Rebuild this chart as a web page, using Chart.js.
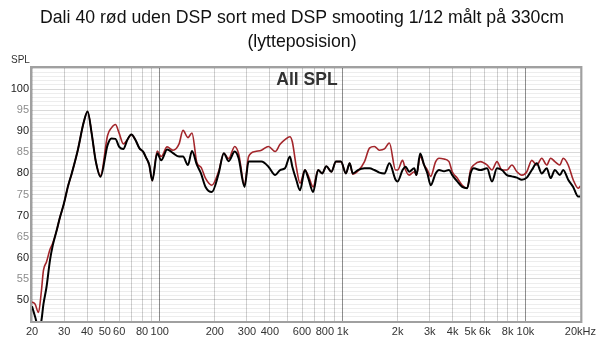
<!DOCTYPE html>
<html>
<head>
<meta charset="utf-8">
<script src="https://cdn.jsdelivr.net/npm/chart.js@4.4.1/dist/chart.umd.min.js"></script>
<style>
  html, body { margin: 0; padding: 0; background: #fff; }
  #wrap { width: 600px; height: 339px; }
</style>
</head>
<body>
<div id="wrap"><canvas id="splChart" width="600" height="339"></canvas></div>
<script>
// frequency points (Hz)
const freqs = [
  20, 20.8, 21.7, 22.5, 23.1, 24, 25.1, 26, 27.3, 28.4,
  29.8, 31.5, 33, 35.6, 38.3, 40.3, 42.4, 44.6, 47.4, 51.8,
  54.4, 57.2, 60, 63.2, 66.5, 69.9, 73.5, 77.3, 81.2, 84,
  87.6, 91, 96.8, 101.8, 109.7, 118.2, 127.5, 134, 142.6, 150,
  159.7, 168, 178, 192.7, 210, 224, 238, 257, 270, 291,
  306, 333, 360, 393, 428, 455, 484, 515, 531, 558,
  585, 622, 649, 690, 735, 773, 815, 868, 920, 980,
  1043, 1093, 1138, 1212, 1318, 1403, 1493, 1590, 1694, 1803,
  1950, 2000, 2129, 2211, 2315, 2465, 2536, 2657, 2793, 2911,
  3034, 3230, 3370, 3588, 3820, 3981, 4238, 4513, 4805, 5010,
  5222, 5674, 6168, 6567, 6992, 7444, 7925, 8438, 8984, 9565,
  10183, 10842, 11543, 12290, 13085, 13742, 14496, 15433, 16107, 17148,
  18257, 19438, 20000
];

// red: uden DSP
const splUdenDsp = [
  49.5, 49, 47, 52, 57, 59, 62, 63.5, 66.5, 69.5,
  72.6, 77, 80, 85.5, 92, 94.7, 89.5, 83, 79.5, 89,
  90.8, 91.6, 89.5, 87, 88, 89.2, 88, 86, 85.1, 83.8,
  82, 78.3, 85.3, 84, 86.3, 85.5, 87, 90.2, 88.5, 89.6,
  82.5, 81.5, 78.8, 77.2, 80.5, 84.8, 83.5, 86.4, 84.7, 77.2,
  84, 85.2, 85.5, 86.4, 85.2, 86.9, 88, 88.7, 87.5, 81.6,
  77.7, 80.8, 79.5, 76.8, 80.8, 80, 81.7, 80.4, 82.8, 82.8,
  80, 82.4, 79.8, 80.5, 82.8, 86, 86.4, 85.5, 85.8, 87.2,
  80.8, 80.8, 83.1, 80.8, 79.6, 80.4, 79.6, 84, 82, 80.8,
  79.3, 82.8, 83.6, 83.4, 82.8, 80.4, 78.9, 77.2, 76.5, 80.8,
  82, 82.8, 82, 80.8, 82.8, 80.8, 80.8, 82, 80.4, 79.6,
  80.4, 83.1, 82, 83.6, 82, 83.6, 82.8, 82, 83.6, 82,
  78.5, 76.5, 77
];

// black: med DSP
const splMedDsp = [
  48.5, 46, 43.5, 45, 49, 53, 59.5, 63, 66.5, 69.5,
  72.6, 77, 80, 85.5, 92, 94.7, 89.5, 83, 79.2, 86.7,
  88.3, 88.2, 86.3, 85.8, 88, 89.2, 88, 86, 85.1, 83.8,
  82, 78.3, 84.8, 83.1, 85.7, 84.8, 84, 84, 82, 85.3,
  82, 80, 76.8, 75.6, 80, 84.8, 82.9, 85.2, 83.6, 76.8,
  82.8, 82.8, 82.8, 81.6, 79.6, 80.8, 81.2, 84, 81.6, 78.5,
  76, 80.8, 78.9, 75.6, 80.8, 80, 81.7, 80.4, 82.8, 82.8,
  80, 82.4, 80, 80.8, 81.2, 81.2, 80.8, 80.2, 80, 82.4,
  78.5, 78.1, 80.8, 81.6, 80.4, 81.2, 79.6, 84.7, 82, 80,
  77.2, 80, 80.8, 80.5, 80.8, 79.6, 78.1, 76.8, 76.5, 80,
  81.2, 80.8, 81.2, 78.1, 81.2, 80.8, 79.6, 79.3, 79, 78.5,
  79, 80.8, 82.4, 80, 81.2, 78.9, 80.8, 79.6, 80.8, 78.5,
  76.8, 74.5, 74.5
];

// vertical grid lines and the ones that get a label
const gridFreqs = [
  20, 30, 40, 50, 60, 70, 80, 90, 100,
  200, 300, 400, 500, 600, 700, 800, 900, 1000,
  2000, 3000, 4000, 5000, 6000, 7000, 8000, 9000, 10000, 20000
];
const freqLabels = {
  20: '20', 30: '30', 40: '40', 50: '50', 60: '60', 80: '80', 100: '100',
  200: '200', 300: '300', 400: '400', 600: '600', 800: '800', 1000: '1k',
  2000: '2k', 3000: '3k', 4000: '4k', 5000: '5k', 6000: '6k', 8000: '8k',
  10000: '10k', 20000: '20kHz'
};
const decades = [100, 1000, 10000];

const dbMin = 45;
const dbMax = 105;

const titleLines = ['Dali 40 rød uden DSP sort med DSP smooting 1/12 målt på 330cm', '(lytteposision)'];

function toPoints(ys) {
  return freqs.map((f, i) => ({ x: f, y: ys[i] }));
}

// title, axis caption, graph name and the grey frame
const decorations = {
  id: 'decorations',
  afterDraw(chart) {
    const ctx = chart.ctx;
    const a = chart.chartArea;
    ctx.save();
    ctx.strokeStyle = '#a0a0a0';
    ctx.lineWidth = 2;
    ctx.strokeRect(a.left - 1, a.top - 1, a.right - a.left + 2, a.bottom - a.top + 2);

    ctx.fillStyle = '#111';
    ctx.textAlign = 'center';
    ctx.textBaseline = 'middle';
    ctx.font = '17.7px "Liberation Sans", Arial, sans-serif';
    ctx.fillText(titleLines[0], 302, 18);
    ctx.fillText(titleLines[1], 302, 42);

    ctx.fillStyle = '#333';
    ctx.font = 'bold 17.5px "Liberation Sans", Arial, sans-serif';
    ctx.fillText('All SPL', 307, 80);

    ctx.font = '10px "Liberation Sans", Arial, sans-serif';
    ctx.textAlign = 'left';
    ctx.fillText('SPL', 11, 60);
    ctx.restore();
  }
};

new Chart(document.getElementById('splChart').getContext('2d'), {
  type: 'line',
  data: {
    datasets: [
      {
        label: 'med DSP',
        data: toPoints(splMedDsp),
        borderColor: '#000000',
        borderWidth: 2,
        pointRadius: 0,
        cubicInterpolationMode: 'monotone',
        fill: false
      },
      {
        label: 'uden DSP',
        data: toPoints(splUdenDsp),
        borderColor: '#a3262b',
        borderWidth: 1.6,
        pointRadius: 0,
        cubicInterpolationMode: 'monotone',
        fill: false
      }
    ]
  },
  options: {
    responsive: false,
    animation: false,
    devicePixelRatio: 1,
    layout: { padding: { top: 68, right: 16, left: 0, bottom: 0 } },
    plugins: {
      legend: { display: false },
      tooltip: { enabled: false },
      title: { display: false }
    },
    scales: {
      x: {
        type: 'logarithmic',
        min: 20,
        max: 20000,
        afterBuildTicks: scale => { scale.ticks = gridFreqs.map(v => ({ value: v })); },
        afterFit: scale => { scale.height = 18; },
        border: { display: false },
        grid: {
          drawTicks: false,
          lineWidth: 1,
          color: c => (c.tick && decades.includes(c.tick.value)) ? '#8e8e8e' : '#d0d0d0'
        },
        ticks: {
          autoSkip: false,
          maxRotation: 0,
          padding: 4,
          color: '#333',
          font: { family: '"Liberation Sans", Arial, sans-serif', size: 11 },
          callback: value => freqLabels[value] || ''
        }
      },
      y: {
        type: 'linear',
        min: dbMin,
        max: dbMax,
        afterBuildTicks: scale => {
          const t = [];
          for (let v = dbMin; v <= dbMax; v++) t.push({ value: v });
          scale.ticks = t;
        },
        afterFit: scale => { scale.width = 32; },
        border: { display: false },
        grid: {
          drawTicks: false,
          lineWidth: 1,
          // translucent so the vertical lines stay solid where they cross
          color: c => (c.tick && c.tick.value % 5 === 0) ? 'rgba(0,0,0,0.15)' : 'rgba(0,0,0,0.07)'
        },
        ticks: {
          autoSkip: false,
          padding: 3,
          font: { family: '"Liberation Sans", Arial, sans-serif', size: 11 },
          color: c => (c.tick && c.tick.value % 10 === 0) ? '#222' : '#8c8c8c',
          callback: value => (value % 5 === 0 && value >= 50 && value <= 100) ? String(value) : ''
        }
      }
    }
  },
  plugins: [decorations]
});
</script>
</body>
</html>
